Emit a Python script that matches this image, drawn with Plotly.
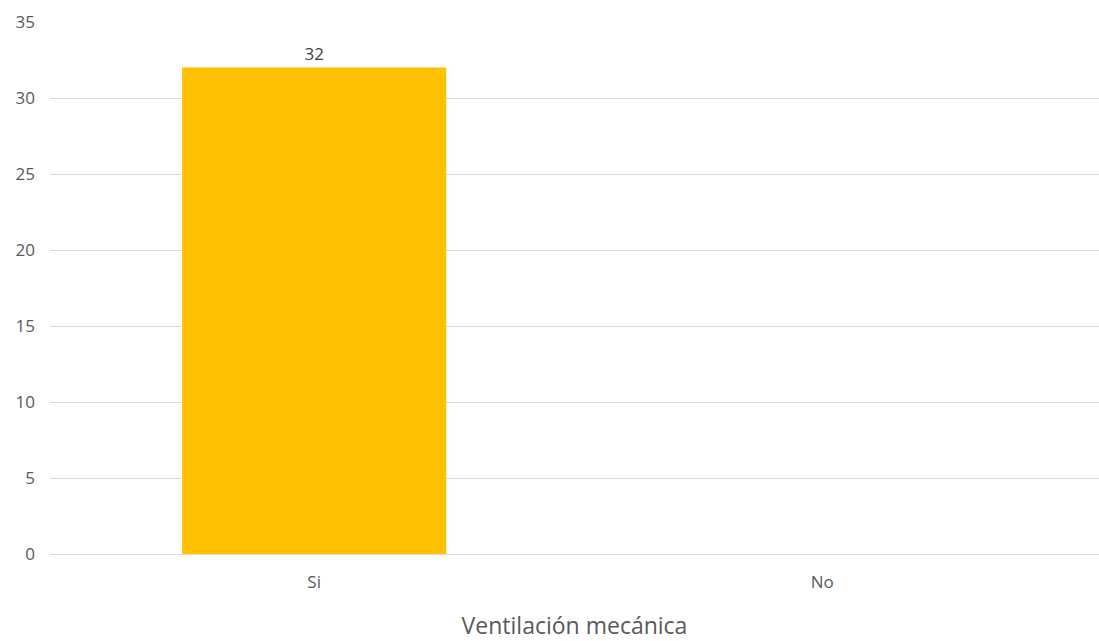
import plotly.graph_objects as go

categories = ["Si", "No"]
values = [32, 0]
y_ticks = [0, 5, 10, 15, 20, 25, 30, 35]

fig = go.Figure(
    go.Bar(
        x=categories,
        y=values,
        marker=dict(color="#FFC000", line=dict(width=0)),
        width=0.52,
        text=[str(v) if v else "" for v in values],
        textposition="outside",
        textfont=dict(family="Open Sans", size=17, color="#404040"),
        cliponaxis=False,
    )
)

fig.update_layout(
    width=1099,
    height=641,
    margin=dict(l=50, r=0, t=22, b=87),
    paper_bgcolor="white",
    plot_bgcolor="white",
    showlegend=False,
    font=dict(family="Open Sans", size=17, color="#595959"),
    bargap=0.48,
)

fig.update_xaxes(
    range=[-0.52, 1.545],
    showgrid=False,
    showline=False,
    zeroline=False,
    ticks="",
    ticklabelstandoff=16,
    tickfont=dict(size=17, color="#595959"),
    title=dict(text="Ventilación mecánica", font=dict(size=23, color="#595959"), standoff=27),
)

fig.update_yaxes(
    range=[0, 35],
    tickvals=y_ticks,
    showgrid=True,
    gridcolor="#D9D9D9",
    gridwidth=1,
    zeroline=True,
    zerolinecolor="#D9D9D9",
    zerolinewidth=1,
    showline=False,
    ticks="",
    ticklabelstandoff=14,
    tickfont=dict(size=17, color="#595959"),
)

fig.write_html("out.html")
